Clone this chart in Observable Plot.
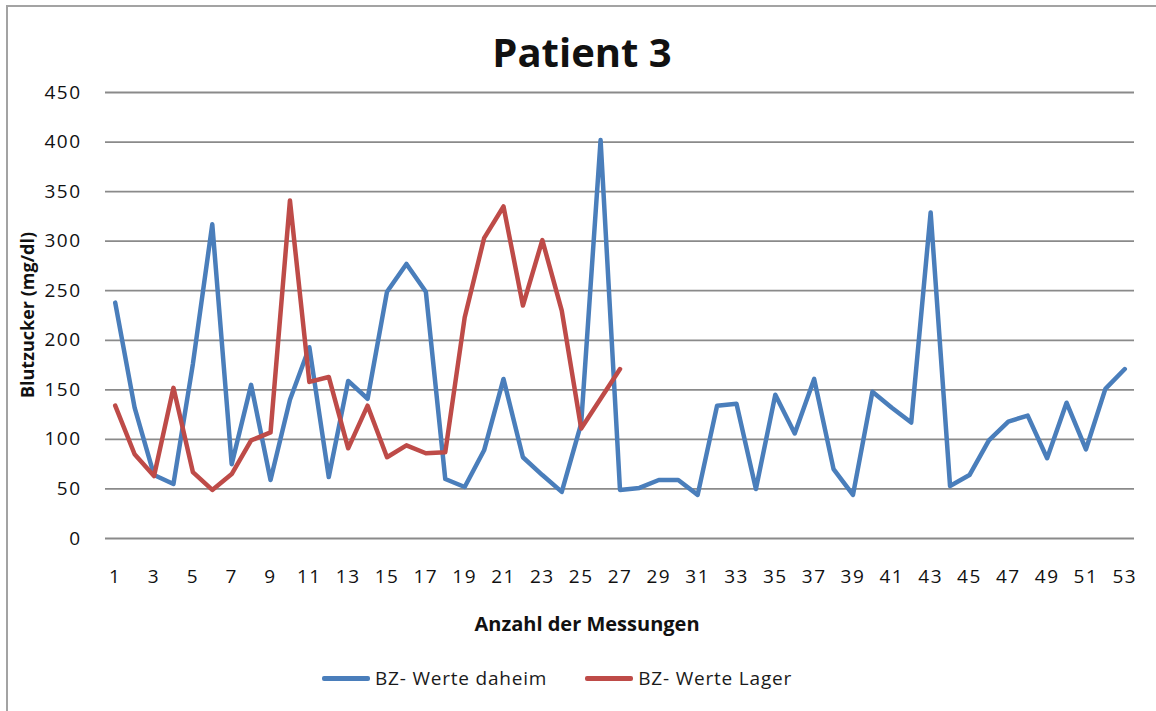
<!DOCTYPE html>
<html>
<head>
<meta charset="utf-8">
<script src="https://cdn.jsdelivr.net/npm/d3@7"></script>
<script src="https://cdn.jsdelivr.net/npm/@observablehq/plot@0.6"></script>
<style>
  html, body { margin: 0; padding: 0; background: #fff; overflow: hidden; width: 1156px; height: 711px; }
  #root { position: relative; width: 1156px; height: 711px; font-family: "Open Sans", sans-serif; color: #1a1a1a; }
  #frame { position: absolute; left: 6px; top: 5px; width: 1300px; height: 900px; border: 2px solid #a3a3a3; box-sizing: border-box; }
  #title { position: absolute; left: 0; width: 1164px; top: 26px; text-align: center; font-weight: 700; font-size: 40px; line-height: 52px; color: #111; }
  #ytitle { position: absolute; left: 27px; top: 315px; transform: translate(-50%, -50%) rotate(-90deg); font-weight: 700; font-size: 18px; white-space: nowrap; color: #111; }
  #xtitle { position: absolute; left: 0; width: 1174px; top: 610px; text-align: center; font-weight: 700; font-size: 20px; line-height: 28px; color: #111; }
  #legend { position: absolute; top: 664px; left: 322px; display: flex; align-items: center; font-size: 19px; line-height: 28px; color: #1a1a1a; letter-spacing: 0.8px; }
  .sw { display: inline-block; width: 48px; height: 5px; border-radius: 2px; margin-right: 5px; }
  .item { display: flex; align-items: center; margin-right: 38px; }
  #chart { position: absolute; left: 0; top: 80px; }
</style>
</head>
<body>
<div id="root">
  <div id="frame"></div>
  <div id="title">Patient 3</div>
  <div id="ytitle">Blutzucker (mg/dl)</div>
  <div id="chart"></div>
  <div id="xtitle">Anzahl der Messungen</div>
  <div id="legend"></div>
</div>
<script>
// ---- data ----
const seriesNames = ["BZ- Werte daheim", "BZ- Werte Lager"];
const seriesColors = ["#4a7ebb", "#be4b48"];
const daheim = [238, 132, 64, 55, 176, 317, 75, 155, 59, 140, 193, 62, 159, 141, 249, 277, 249, 60, 52, 89,
                161, 82, 64, 47, 116, 402, 49, 51, 59, 59, 44, 134, 136, 50, 145, 106, 161, 70, 44, 148,
                132, 117, 329, 53, 64, 99, 118, 124, 81, 137, 90, 151, 171];
const lager = [134, 85, 63, 152, 67, 49, 65, 99, 107, 341, 158, 163, 91, 134, 82, 94, 86, 87, 223, 303,
               335, 235, 301, 230, 111, 141, 171];
const xTicks = [1, 3, 5, 7, 9, 11, 13, 15, 17, 19, 21, 23, 25, 27, 29, 31, 33, 35, 37, 39, 41, 43, 45, 47, 49, 51, 53];
const yTicks = [0, 50, 100, 150, 200, 250, 300, 350, 400, 450];

const rows = [
  ...daheim.map((v, i) => ({ n: i + 1, v, s: seriesNames[0] })),
  ...lager.map((v, i) => ({ n: i + 1, v, s: seriesNames[1] }))
];

const chart = Plot.plot({
  width: 1156,
  height: 520,
  marginTop: 12,
  marginBottom: 62,
  marginLeft: 105,
  marginRight: 22,
  style: { fontFamily: "Open Sans, sans-serif", fontSize: "19px", color: "#111", background: "transparent", letterSpacing: "1.5px" },
  x: { domain: [0.5, 53.5], ticks: xTicks, tickSize: 0, tickPadding: 31, label: null, tickFormat: d => String(d) },
  y: { domain: [0, 450], ticks: yTicks, tickSize: 0, tickPadding: 24, label: null },
  color: { domain: seriesNames, range: seriesColors },
  marks: [
    Plot.ruleY(yTicks, { stroke: "#8a8a8a", strokeWidth: 1.8 }),
    Plot.line(rows, { x: "n", y: "v", z: "s", stroke: "s", strokeWidth: 4.5, strokeLinejoin: "round", strokeLinecap: "round" })
  ]
});
document.getElementById("chart").appendChild(chart);

const legend = document.getElementById("legend");
seriesNames.forEach((name, i) => {
  const it = document.createElement("div");
  it.className = "item";
  const sw = document.createElement("span");
  sw.className = "sw";
  sw.style.background = seriesColors[i];
  it.appendChild(sw);
  it.appendChild(document.createTextNode(name));
  legend.appendChild(it);
});
</script>
</body>
</html>
